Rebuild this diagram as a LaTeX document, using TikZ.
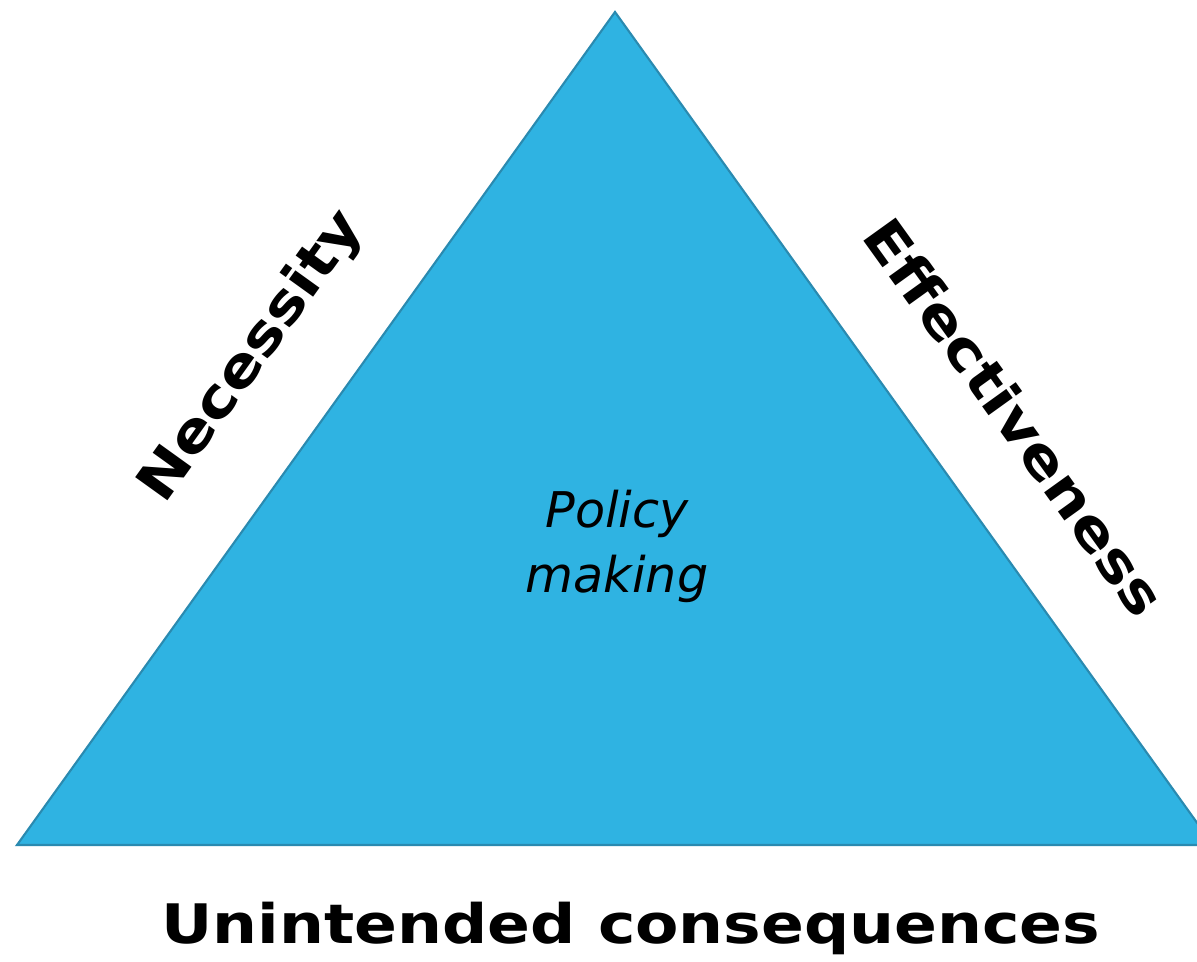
\documentclass[tikz,border=0pt]{standalone}
\usepackage{fontspec}
\setmainfont{DejaVu Sans}[BoldFeatures={FakeStretch=1.16}]
\usepackage{tikz}
\usetikzlibrary{calc}
\usetikzlibrary{positioning}

\definecolor{policyblue}{HTML}{2FB3E2}
\definecolor{policyedge}{HTML}{2A8AB0}

\tikzset{
    sidelabel/.style={font=\bfseries\fontsize{31}{36}\selectfont, inner sep=0pt},
    centrelabel/.style={font=\itshape\fontsize{28}{37}\selectfont, align=center, inner sep=0pt}
}

\begin{document}
\begin{tikzpicture}
\useasboundingbox (0,0) rectangle (23.94,19.22);
\clip (0,0) rectangle (23.94,19.22);
% corners of the triangle
\coordinate (top) at (12.3,18.98);
\coordinate (left) at (0.34,2.32);
\coordinate (right) at (24.26,2.32);
\draw[fill=policyblue, draw=policyedge, line width=1.2pt] (top) -- (left) -- (right) -- cycle;% triangle
% labels on the sides
\node[sidelabel, rotate=54.3] (necessity) at (5.05,12.08) {Necessity};
\node[sidelabel, rotate=-54.3] (effect) at (20.3,10.88) {Effectiveness};
\node[sidelabel, anchor=base] (unintended) at (12.62,0.36) {Unintended consequences};
% middle
\node[centrelabel] (policy) at (12.34,8.3) {Policy\\making};
\end{tikzpicture}
\end{document}
